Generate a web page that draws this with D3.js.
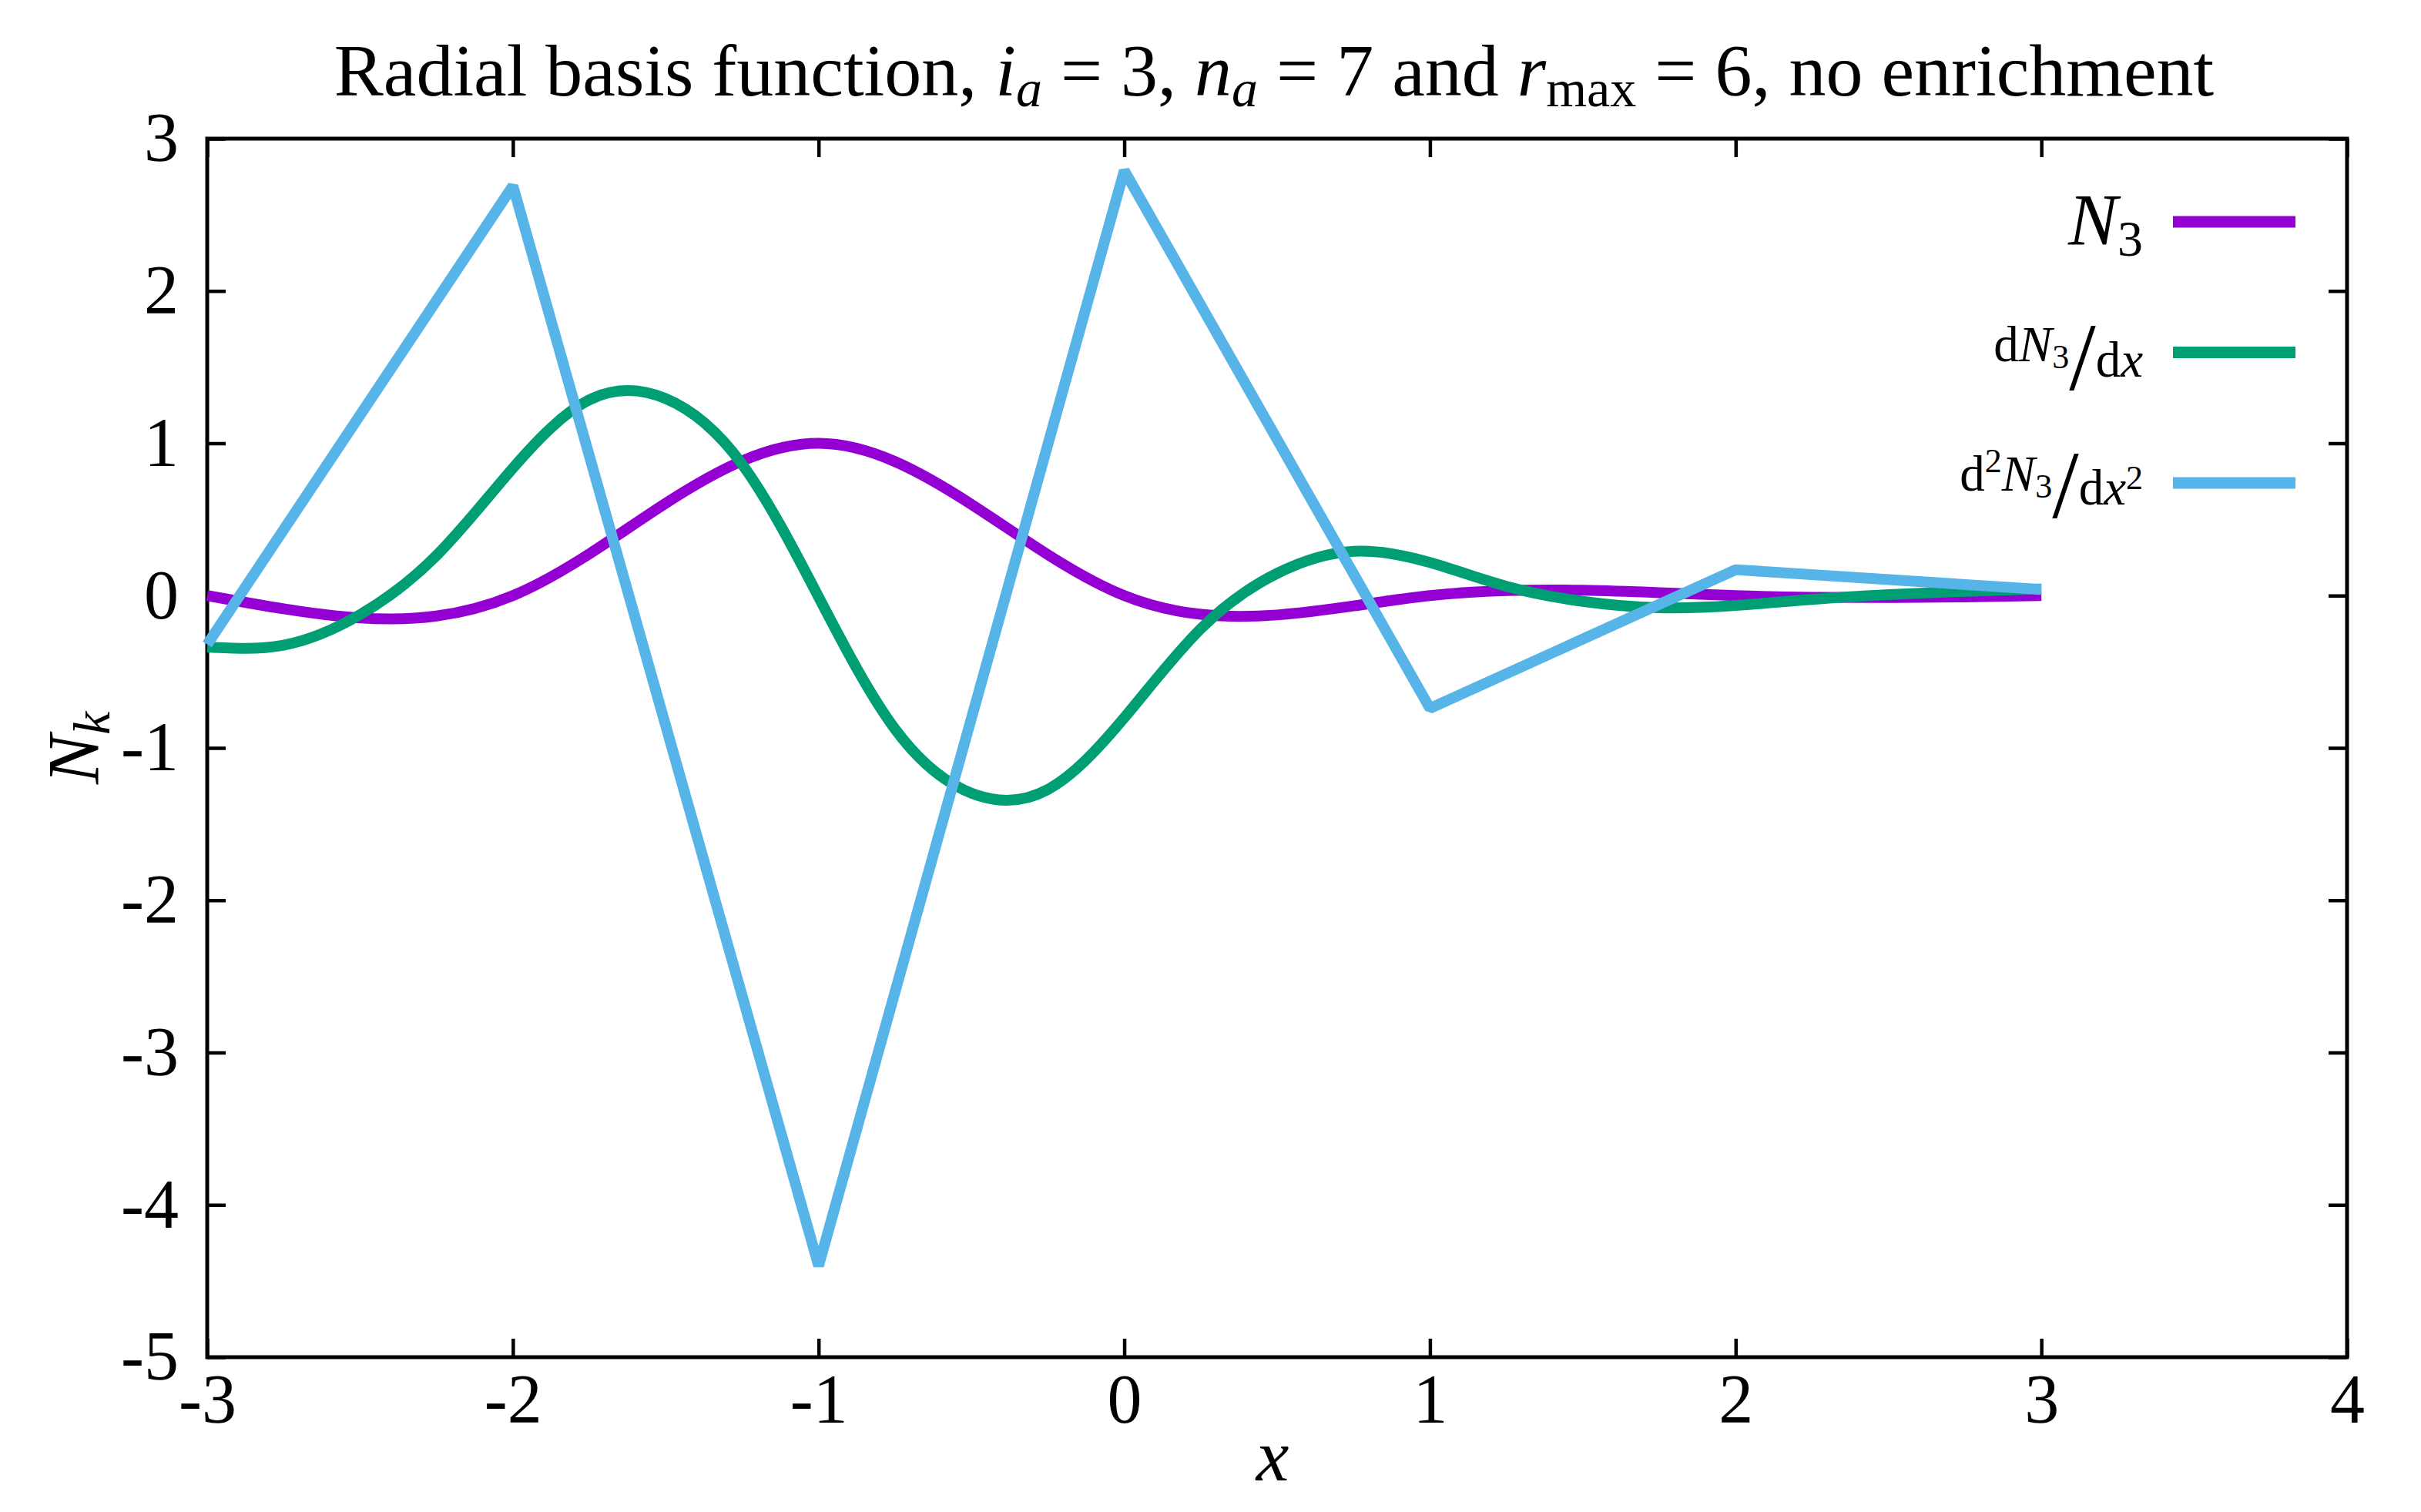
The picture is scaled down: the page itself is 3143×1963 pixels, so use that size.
<!DOCTYPE html>
<html><head><meta charset="utf-8">
<script src="https://cdn.jsdelivr.net/npm/d3@7"></script>
<style>html,body{margin:0;padding:0;background:#fff;} svg{display:block;} text{white-space:pre;}</style>
</head><body>
<svg id="c" width="3143" height="1963"></svg>
<script>
// ---------------- data ----------------
const xTicks = [-3, -2, -1, 0, 1, 2, 3, 4];
const xTickLabels = ["-3", "-2", "-1", "0", "1", "2", "3", "4"];
const yTicks = [-5, -4, -3, -2, -1, 0, 1, 2, 3];
const yTickLabels = ["-5", "-4", "-3", "-2", "-1", "0", "1", "2", "3"];

const sampleX = [-3, -2.75, -2.5, -2.25, -2, -1.75, -1.5, -1.25, -1, -0.75, -0.5, -0.25, 0,
                 0.25, 0.5, 0.75, 1, 1.25, 1.5, 1.75, 2, 2.25, 2.5, 2.75, 3];
const n3 = [0, -0.087, -0.147, -0.134, 0, 0.274, 0.606, 0.884, 1, 0.880, 0.599, 0.269, 0,
            -0.123, -0.127, -0.068, 0, 0.033, 0.035, 0.019, 0, -0.011, -0.013, -0.009, 0];
const dn3 = [-0.338, -0.325, -0.125, 0.263, 0.837, 1.285, 1.293, 0.862, -0.009, -0.876, -1.297, -1.273, -0.802,
             -0.218, 0.146, 0.291, 0.217, 0.061, -0.038, -0.080, -0.065, -0.025, 0.006, 0.028, 0.043];
const nodeX = [-3, -2, -1, 0, 1, 2, 3];
const d2n3 = [-0.32, 2.69, -4.40, 2.79, -0.74, 0.17, 0.04];

const seriesColors = ["#9400d3", "#009e73", "#56b4e9"];

// ---------------- layout ----------------
const L = 269, R = 3047, T = 180, B = 1762;
const FONT = '"Liberation Serif","DejaVu Serif",serif';
const svg = d3.select("#c");
svg.append("rect").attr("width", 3143).attr("height", 1963).attr("fill", "#fff");

const x = d3.scaleLinear().domain([-3, 4]).range([L, R]);
const y = d3.scaleLinear().domain([-5, 3]).range([B, T]);

function styleAxis(g, fs) {
  g.attr("font-family", FONT).attr("font-size", fs);
  g.select(".domain").remove();
  g.selectAll(".tick line").attr("stroke", "#000").attr("stroke-width", 4.5);
  g.selectAll(".tick text").attr("fill", "#000");
}
const TICK = 24;
styleAxis(svg.append("g").attr("transform", `translate(0,${B})`)
  .call(d3.axisBottom(x).tickValues(xTicks).tickSize(-TICK).tickPadding(21)
    .tickFormat((d, i) => xTickLabels[i])), 90);
styleAxis(svg.append("g").attr("transform", `translate(${L},0)`)
  .call(d3.axisLeft(y).tickValues(yTicks).tickSize(-TICK).tickPadding(37)
    .tickFormat((d, i) => yTickLabels[i])), 90);
styleAxis(svg.append("g").attr("transform", `translate(0,${T})`)
  .call(d3.axisTop(x).tickValues(xTicks).tickSize(-TICK).tickFormat("")), 90);
styleAxis(svg.append("g").attr("transform", `translate(${R},0)`)
  .call(d3.axisRight(y).tickValues(yTicks).tickSize(-TICK).tickFormat("")), 90);

svg.append("rect").attr("x", L).attr("y", T).attr("width", R - L).attr("height", B - T)
  .attr("fill", "none").attr("stroke", "#000").attr("stroke-width", 5);

// ---------------- curves ----------------
const smooth = d3.line().x(d => x(d[0])).y(d => y(d[1])).curve(d3.curveNatural);
const straight = d3.line().x(d => x(d[0])).y(d => y(d[1]));
const LW = 14;
svg.append("path").attr("d", smooth(sampleX.map((v, i) => [v, n3[i]])))
  .attr("fill", "none").attr("stroke", seriesColors[0]).attr("stroke-width", LW);
svg.append("path").attr("d", smooth(sampleX.map((v, i) => [v, dn3[i]])))
  .attr("fill", "none").attr("stroke", seriesColors[1]).attr("stroke-width", LW);
svg.append("path").attr("d", straight(nodeX.map((v, i) => [v, d2n3[i]])))
  .attr("fill", "none").attr("stroke", seriesColors[2]).attr("stroke-width", LW)
  .attr("stroke-linejoin", "bevel");

// ---------------- texts ----------------
function runs(sel, items, base) {
  let prev = 0;
  items.forEach(it => {
    const sh = it.shift || 0;
    const ts = sel.append("tspan").text(it.t).attr("font-size", it.size || base);
    if (it.it) ts.attr("font-style", "italic");
    if (sh !== prev) ts.attr("dy", sh - prev);
    prev = sh;
  });
}

const title = svg.append("text").attr("x", (L + R) / 2 - 4).attr("y", 124)
  .attr("text-anchor", "middle").attr("font-family", FONT).attr("fill", "#000");
runs(title, [
  {t: "Radial basis function, "}, {t: "i", it: 1}, {t: "a", it: 1, size: 68, shift: 14},
  {t: " = 3, "}, {t: "n", it: 1}, {t: "a", it: 1, size: 68, shift: 14},
  {t: " = 7 and "}, {t: "r", it: 1}, {t: "max", size: 68, shift: 14},
  {t: " = 6, no enrichment"}
], 96);

const xl = svg.append("text").attr("x", (L + R) / 2 - 6).attr("y", 1922)
  .attr("text-anchor", "middle").attr("font-family", FONT);
runs(xl, [{t: "x", it: 1}], 96);

const yl = svg.append("text").attr("transform", `translate(128,${(T + B) / 2}) rotate(-90)`)
  .attr("text-anchor", "middle").attr("font-family", FONT);
runs(yl, [{t: "N", it: 1}, {t: "k", it: 1, size: 68, shift: 14}], 96);

// ---------------- legend ----------------
const legendItems = [
  [{t: "N", it: 1}, {t: "3", size: 66, shift: 14}],
  [{t: "d", size: 65}, {t: "N", it: 1, size: 65}, {t: "3", size: 44, shift: 9},
   {t: "/", size: 124, shift: 37}, {t: "d", size: 65, shift: 20}, {t: "x", it: 1, size: 65, shift: 20}],
  [{t: "d", size: 65}, {t: "2", size: 44, shift: -24}, {t: "N", it: 1, size: 65}, {t: "3", size: 44, shift: 9},
   {t: "/", size: 124, shift: 35}, {t: "d", size: 65, shift: 18}, {t: "x", it: 1, size: 65, shift: 18},
   {t: "2", size: 44, shift: -2}]
];
const legendBase = [30, 11, 10];
legendItems.forEach((items, i) => {
  const ry = 288 + i * 169.5;
  const t = svg.append("text").attr("x", 2782).attr("y", ry + legendBase[i])
    .attr("text-anchor", "end").attr("font-family", FONT);
  runs(t, items, 96);
  svg.append("line").attr("x1", 2821).attr("x2", 2980).attr("y1", ry).attr("y2", ry)
    .attr("stroke", seriesColors[i]).attr("stroke-width", 15);
});
</script>
</body></html>
